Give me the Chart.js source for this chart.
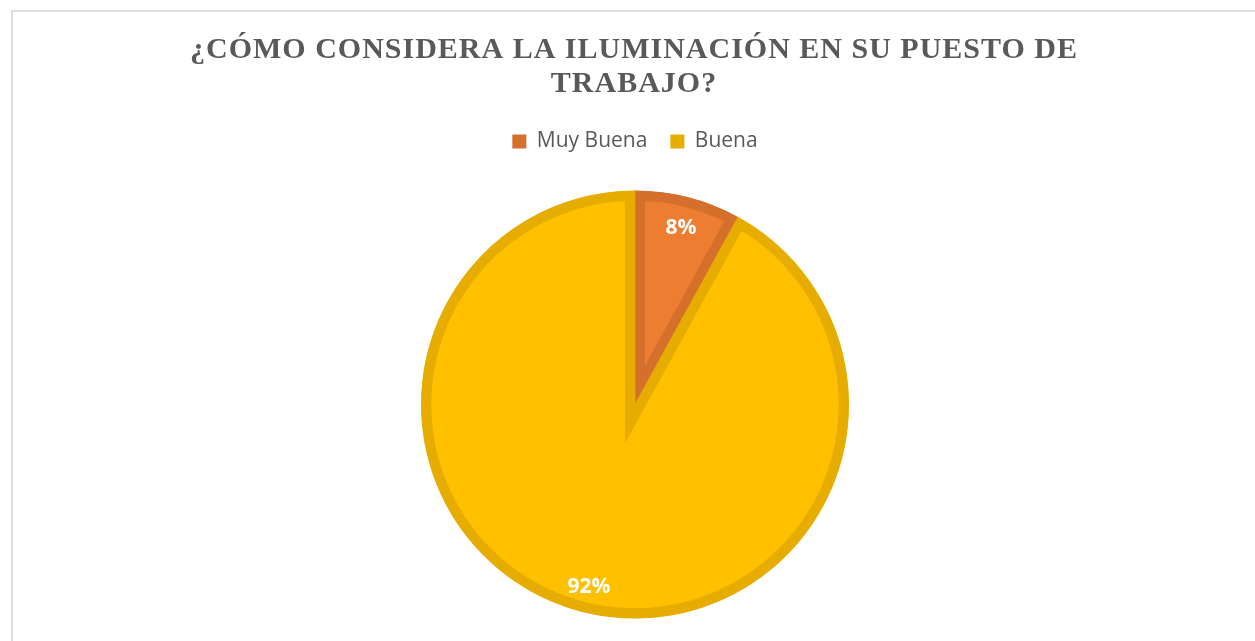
<!DOCTYPE html>
<html lang="es">
<head>
<meta charset="utf-8">
<title>Iluminación en el puesto de trabajo</title>
<script src="https://cdn.jsdelivr.net/npm/chart.js@4/dist/chart.umd.min.js"></script>
<style>
  html, body { margin: 0; padding: 0; background: #fff; overflow: hidden; width: 1255px; height: 641px; }
  #frame {
    position: absolute; left: 11px; top: 10px;
    width: 1300px; height: 700px;
    border: 2px solid #dcdcdc; box-sizing: border-box;
  }
  /* canvas runs a bit past the window bottom so the pie can sit where it does in the original */
  #wrap { position: absolute; left: 0; top: 0; width: 1255px; height: 660px; }
</style>
</head>
<body>
<div id="frame"></div>
<div id="wrap"><canvas id="chart"></canvas></div>
<script>
// --- data ---
const categories = ["Muy Buena", "Buena"];
const percentages = [8, 92];
const sliceColors = ["#ED7D31", "#FFC000"];
const sliceBorders = ["#D4702C", "#E6AD00"];
const titleLines = ["¿CÓMO CONSIDERA LA ILUMINACIÓN EN SU PUESTO DE", "TRABAJO?"];

// spaced serif title, drawn by hand (Chart.js title has no letter spacing)
const spacedTitle = {
  id: "spacedTitle",
  afterDraw(chart) {
    const ctx = chart.ctx;
    ctx.save();
    ctx.font = "bold 30px 'Liberation Serif', 'Times New Roman', serif";
    ctx.fillStyle = "#595959";
    ctx.textAlign = "center";
    ctx.textBaseline = "alphabetic";
    if ("letterSpacing" in ctx) ctx.letterSpacing = "1px";
    titleLines.forEach((line, i) => ctx.fillText(line, 634, 58 + i * 34));
    ctx.restore();
  }
};

// white % labels, placed along each slice's mid angle near the rim
const sliceLabels = {
  id: "sliceLabels",
  afterDatasetsDraw(chart) {
    const ctx = chart.ctx;
    const meta = chart.getDatasetMeta(0);
    ctx.save();
    ctx.font = "bold 21px 'Open Sans', 'DejaVu Sans', sans-serif";
    ctx.fillStyle = "#ffffff";
    ctx.textAlign = "center";
    ctx.textBaseline = "middle";
    meta.data.forEach((arc, i) => {
      const { x, y, startAngle, endAngle, outerRadius } = arc.getProps(["x", "y", "startAngle", "endAngle", "outerRadius"], true);
      const mid = (startAngle + endAngle) / 2;
      const r = outerRadius * 0.865;
      ctx.fillText(percentages[i] + "%", x + Math.cos(mid) * r, y + Math.sin(mid) * r + 3);
    });
    ctx.restore();
  }
};

new Chart(document.getElementById("chart"), {
  type: "pie",
  data: {
    labels: categories,
    datasets: [{
      data: percentages,
      backgroundColor: sliceColors,
      borderColor: sliceBorders,
      borderWidth: 10,
      borderAlign: "inner",
      borderJoinStyle: "miter"
    }]
  },
  options: {
    responsive: true,
    maintainAspectRatio: false,
    animation: false,
    radius: 214,
    layout: { padding: { left: 17, right: 2, top: 108, bottom: 13 } },
    plugins: {
      tooltip: { enabled: false },
      title: { display: false },
      legend: {
        position: "top",
        labels: {
          color: "#595959",
          font: { family: "'Open Sans', 'Noto Sans', sans-serif", size: 21 },
          boxWidth: 14,
          boxHeight: 14,
          padding: 23,
          generateLabels: (chart) => categories.map((name, i) => ({
            text: name,
            fillStyle: sliceBorders[i],
            strokeStyle: sliceBorders[i],
            lineWidth: 0,
            fontColor: "#595959",
            hidden: false,
            index: i
          }))
        }
      }
    }
  },
  plugins: [sliceLabels, spacedTitle]
});
</script>
</body>
</html>
